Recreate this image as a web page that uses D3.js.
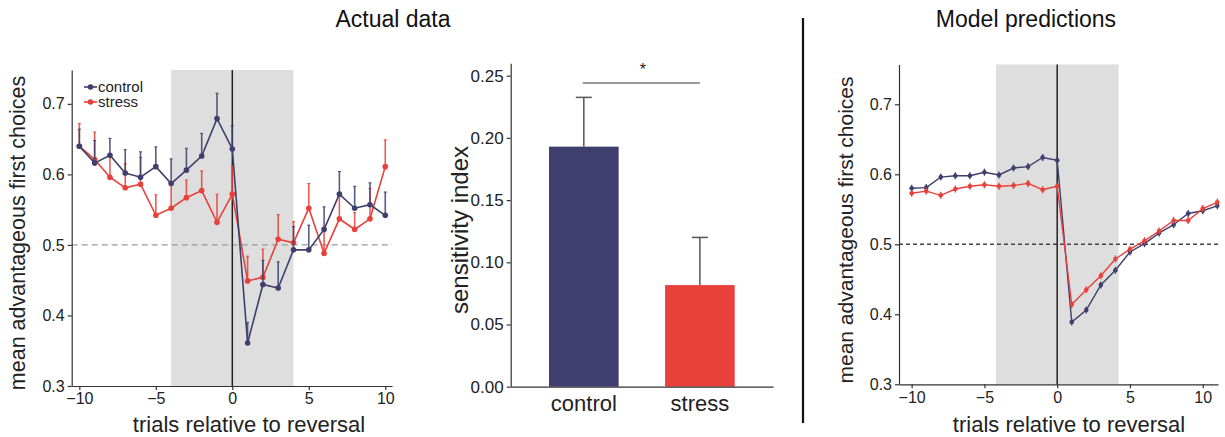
<!DOCTYPE html>
<html><head><meta charset="utf-8">
<script src="https://cdn.jsdelivr.net/npm/d3@7"></script>
<style>body{margin:0;background:#fff}svg{display:block;font-family:"Liberation Sans",Arial,sans-serif}</style>
</head><body><svg id="c" width="1225" height="437"></svg>
<script>
// ---------- data ----------
const trials = d3.range(-10, 11);           // -10..10
const actualControl = [0.640,0.616,0.627,0.602,0.596,0.611,0.587,0.606,0.626,0.679,0.636,0.361,0.444,0.439,0.493,0.493,0.522,0.572,0.552,0.557,0.542];
const actualControlErrTop = [0.664,0.648,0.651,0.635,0.632,0.639,0.622,0.637,0.658,0.715,0.669,0.390,0.478,0.476,0.526,0.528,0.554,0.604,0.583,0.588,0.575];
const actualStress = [0.640,0.621,0.596,0.581,0.586,0.542,0.552,0.567,0.577,0.532,0.572,0.449,0.454,0.508,0.503,0.552,0.488,0.537,0.522,0.537,0.611];
const actualStressErrTop = [0.672,0.660,0.628,0.615,0.624,0.571,0.585,0.592,0.605,0.572,0.612,0.484,0.494,0.543,0.533,0.587,0.520,0.570,0.546,0.580,0.649];

const modelTrials = d3.range(-10, 12);      // -10..11
const modelControl = [0.580,0.581,0.596,0.598,0.598,0.603,0.599,0.609,0.611,0.624,0.620,0.389,0.406,0.442,0.463,0.489,0.501,0.516,0.528,0.544,0.548,0.555];
const modelStress  = [0.573,0.576,0.570,0.579,0.583,0.585,0.583,0.584,0.587,0.578,0.583,0.414,0.435,0.455,0.479,0.493,0.505,0.519,0.534,0.534,0.551,0.560];
const modelErr = 0.005;

const groups = ["control","stress"];
const sensitivity = [0.193, 0.0817];
const sensitivityErrTop = [0.2326, 0.120];

const lineYTicks = [0.3,0.4,0.5,0.6,0.7];
const lineXTicks = [-10,-5,0,5,10];
const barYTicks = [0,0.05,0.10,0.15,0.20,0.25];

const colControl = "#3e3f6e", colStress = "#e8403a";
const axisCol = "#333";

const svg = d3.select("#c");

function styleAxis(g, fs){
  g.selectAll(".domain").attr("stroke", axisCol).attr("stroke-width",1.2);
  g.selectAll(".tick line").attr("stroke", axisCol).attr("stroke-width",1.2);
  g.selectAll(".tick text").attr("fill","#222").attr("font-size",fs).attr("font-family","Liberation Sans, Arial, sans-serif");
}

// ---------- Left panel: actual data ----------
(function(){
  const x = d3.scaleLinear().domain([-10.5, 10.44]).range([71.7, 392]);
  const y = d3.scaleLinear().domain([0.3, 0.748]).range([386, 70]);
  const g = svg.append("g");
  g.append("rect").attr("x", x(-4)).attr("y", y.range()[1]).attr("width", x(4)-x(-4))
    .attr("height", y.range()[0]-y.range()[1]).attr("fill","#dedede");
  g.append("line").attr("x1", x.range()[0]).attr("x2", x.range()[1]).attr("y1", y(0.5)).attr("y2", y(0.5))
    .attr("stroke","#999").attr("stroke-width",1.3).attr("stroke-dasharray","6,4");
  g.append("line").attr("x1", x(0)).attr("x2", x(0)).attr("y1", y.range()[0]).attr("y2", y.range()[1])
    .attr("stroke","#222").attr("stroke-width",1.5);

  const ax = g.append("g").attr("transform",`translate(0,${y.range()[0]})`)
    .call(d3.axisBottom(x).tickValues(lineXTicks).tickSize(4).tickPadding(3).tickSizeOuter(0).tickFormat(d3.format("d")));
  styleAxis(ax, 16);
  const ay = g.append("g").attr("transform",`translate(${x.range()[0]},0)`)
    .call(d3.axisLeft(y).tickValues(lineYTicks).tickSize(4).tickPadding(3).tickSizeOuter(0).tickFormat(d3.format(".1f")));
  styleAxis(ay, 16);

  function series(vals, tops, col){
    const s = g.append("g");
    s.selectAll("line.err").data(trials).join("line")
      .attr("x1", d=>x(d)).attr("x2", d=>x(d))
      .attr("y1", (d,i)=>y(vals[i])).attr("y2",(d,i)=>y(tops[i]))
      .attr("stroke", col).attr("stroke-width",1.6).attr("opacity",0.85);
    s.selectAll("line.cap").data(trials).join("line")
      .attr("x1", d=>x(d)-1.5).attr("x2", d=>x(d)+1.5)
      .attr("y1", (d,i)=>y(tops[i])).attr("y2",(d,i)=>y(tops[i]))
      .attr("stroke", col).attr("stroke-width",1.2).attr("opacity",0.85);
    s.append("path").datum(trials).attr("fill","none").attr("stroke",col).attr("stroke-width",1.6)
      .attr("d", d3.line().x(d=>x(d)).y((d,i)=>y(vals[i])));
    s.selectAll("circle").data(trials).join("circle")
      .attr("cx", d=>x(d)).attr("cy",(d,i)=>y(vals[i])).attr("r",2.8).attr("fill",col);
  }
  series(actualStress, actualStressErrTop, colStress);
  series(actualControl, actualControlErrTop, colControl);

  // legend
  const leg = g.append("g");
  [["control",colControl,87],["stress",colStress,102]].forEach(([t,c,yy])=>{
    leg.append("line").attr("x1",84).attr("x2",97).attr("y1",yy).attr("y2",yy).attr("stroke",c).attr("stroke-width",1.6);
    leg.append("circle").attr("cx",90.5).attr("cy",yy).attr("r",2.8).attr("fill",c);
    leg.append("text").attr("x",98).attr("y",yy+5).attr("font-size",15).attr("fill","#222").text(t);
  });

  g.append("text").attr("transform","translate(25,233) rotate(-90)").attr("text-anchor","middle")
    .attr("font-size",21.5).attr("fill","#222").text("mean advantageous first choices");
  g.append("text").attr("x",249).attr("y",432).attr("text-anchor","middle")
    .attr("font-size",22).attr("fill","#222").text("trials relative to reversal");
})();

// ---------- Middle panel: sensitivity index ----------
(function(){
  const x = d3.scaleBand().domain(groups).range([510.7, 773]).paddingInner(0.4).paddingOuter(0.33);
  const y = d3.scaleLinear().domain([0, 0.26]).range([386.7, 63.3]);
  const g = svg.append("g");
  const cols = [colControl, colStress];
  g.selectAll("rect.bar").data(groups).join("rect")
    .attr("x", d=>x(d)).attr("width", x.bandwidth())
    .attr("y", (d,i)=>y(sensitivity[i])).attr("height",(d,i)=>y(0)-y(sensitivity[i]))
    .attr("fill",(d,i)=>cols[i]);
  g.selectAll("line.err").data(groups).join("line")
    .attr("x1", d=>x(d)+x.bandwidth()/2).attr("x2", d=>x(d)+x.bandwidth()/2)
    .attr("y1",(d,i)=>y(sensitivity[i])).attr("y2",(d,i)=>y(sensitivityErrTop[i]))
    .attr("stroke","#555").attr("stroke-width",1.5);
  g.selectAll("line.cap").data(groups).join("line")
    .attr("x1", d=>x(d)+x.bandwidth()/2-8).attr("x2", d=>x(d)+x.bandwidth()/2+8)
    .attr("y1",(d,i)=>y(sensitivityErrTop[i])).attr("y2",(d,i)=>y(sensitivityErrTop[i]))
    .attr("stroke","#555").attr("stroke-width",1.5);

  const ax = g.append("g").attr("transform",`translate(0,${y(0)})`)
    .call(d3.axisBottom(x).tickSize(0).tickPadding(9).tickSizeOuter(0));
  styleAxis(ax, 22);
  const ay = g.append("g").attr("transform",`translate(${x.range()[0]},0)`)
    .call(d3.axisLeft(y).tickValues(barYTicks).tickSize(4).tickPadding(3).tickSizeOuter(0).tickFormat(d3.format(".2f")));
  styleAxis(ay, 17);

  // significance bar
  const cx0 = x("control")+x.bandwidth()/2, cx1 = x("stress")+x.bandwidth()/2;
  g.append("line").attr("x1",cx0-1).attr("x2",cx1).attr("y1",83).attr("y2",83).attr("stroke","#333").attr("stroke-width",1.2);
  g.append("text").attr("x",(cx0+cx1)/2+1).attr("y",75).attr("text-anchor","middle").attr("font-size",16).attr("fill","#222").text("*");

  g.append("text").attr("transform","translate(468,230) rotate(-90)").attr("text-anchor","middle")
    .attr("font-size",24).attr("fill","#222").text("sensitivity index");
})();

// titles & separator
svg.append("text").attr("x",393).attr("y",27).attr("text-anchor","middle").attr("font-size",23).attr("fill","#111").text("Actual data");
svg.append("text").attr("x",1026).attr("y",27).attr("text-anchor","middle").attr("font-size",23).attr("fill","#111").text("Model predictions");
svg.append("line").attr("x1",803).attr("x2",803).attr("y1",18).attr("y2",423).attr("stroke","#111").attr("stroke-width",2.2);

// ---------- Right panel: model predictions ----------
(function(){
  const x = d3.scaleLinear().domain([-10.87, 11.05]).range([899, 1218]);
  const y = d3.scaleLinear().domain([0.3, 0.757]).range([384.3, 64.4]);
  const g = svg.append("g");
  g.append("rect").attr("x", x(-4.2)).attr("y", y.range()[1]).attr("width", x(4.22)-x(-4.2))
    .attr("height", y.range()[0]-y.range()[1]).attr("fill","#dedede");
  g.append("line").attr("x1", x.range()[0]).attr("x2", x.range()[1]).attr("y1", y(0.5)).attr("y2", y(0.5))
    .attr("stroke","#444").attr("stroke-width",1.4).attr("stroke-dasharray","4,3");
  g.append("line").attr("x1", x(0)).attr("x2", x(0)).attr("y1", y.range()[0]).attr("y2", y.range()[1])
    .attr("stroke","#222").attr("stroke-width",1.5);

  const ax = g.append("g").attr("transform",`translate(0,${y.range()[0]})`)
    .call(d3.axisBottom(x).tickValues(lineXTicks).tickSize(4).tickPadding(3).tickSizeOuter(0).tickFormat(d3.format("d")));
  styleAxis(ax, 16);
  const ay = g.append("g").attr("transform",`translate(${x.range()[0]},0)`)
    .call(d3.axisLeft(y).tickValues(lineYTicks).tickSize(4).tickPadding(3).tickSizeOuter(0).tickFormat(d3.format(".1f")));
  styleAxis(ay, 16);

  function series(vals, col){
    const s = g.append("g");
    s.append("path").datum(modelTrials).attr("fill","none").attr("stroke",col).attr("stroke-width",1.4)
      .attr("d", d3.line().x(d=>x(d)).y((d,i)=>y(vals[i])));
    s.selectAll("line.err").data(modelTrials).join("line")
      .attr("x1", d=>x(d)).attr("x2", d=>x(d))
      .attr("y1", (d,i)=>y(vals[i]-modelErr)).attr("y2",(d,i)=>y(vals[i]+modelErr))
      .attr("stroke", col).attr("stroke-width",1.3);
    s.selectAll("circle").data(modelTrials).join("circle")
      .attr("cx", d=>x(d)).attr("cy",(d,i)=>y(vals[i])).attr("r",2.3).attr("fill",col);
  }
  series(modelControl, colControl);
  series(modelStress, colStress);

  g.append("text").attr("transform","translate(853,230) rotate(-90)").attr("text-anchor","middle")
    .attr("font-size",21).attr("fill","#222").text("mean advantageous first choices");
  g.append("text").attr("x",1069).attr("y",432).attr("text-anchor","middle")
    .attr("font-size",22).attr("fill","#222").text("trials relative to reversal");
})();
</script></body></html>
